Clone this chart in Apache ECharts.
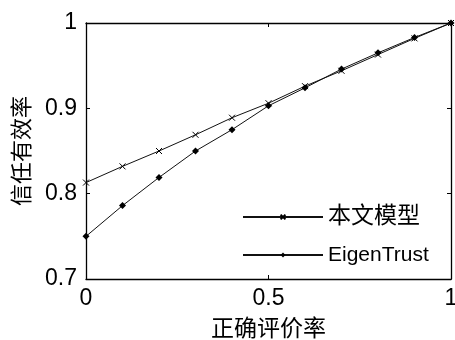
<!DOCTYPE html>
<html><head><meta charset="utf-8">
<script src="https://cdn.jsdelivr.net/npm/echarts@6/dist/echarts.min.js"></script>
<style>html,body{margin:0;padding:0;background:#fff}#c{width:455px;height:340px}</style>
</head><body><div id="c"></div>
<script>
const xValues = [0,0.1,0.2,0.3,0.4,0.5,0.6,0.7,0.8,0.9,1.0];
const modelValues = [0.813,0.832,0.850,0.869,0.889,0.906,0.926,0.944,0.963,0.982,1.0];
const eigenValues = [0.750,0.786,0.819,0.850,0.875,0.903,0.924,0.946,0.965,0.983,1.0];
const seriesNames = ['本文模型','EigenTrust'];
const xName = '正确评价率';
const yName = '信任有效率';

const chart = echarts.init(document.getElementById('c'));
const font = 'Arial, "Liberation Sans", "Noto Sans CJK SC", sans-serif';
const xMark = 'path://M0,0L10,10M10,0L0,10';
const tickStyle = {show:true,inside:true,length:4,lineStyle:{color:'#000',width:1}};
const lineStyleAxis = {color:'#000',width:1.3};
chart.setOption({
  animation:false,
  backgroundColor:'#fff',
  grid:{left:86,right:4,top:23,bottom:61,show:false,containLabel:false,outerBoundsMode:'none'},
  legend:[
    {left:242,top:205,padding:0,itemWidth:80,itemHeight:6,itemGap:0,
     textStyle:{fontFamily:font,fontSize:23,lineHeight:24,color:'#000'},
     data:[seriesNames[0]]},
    {left:242,top:243,padding:0,itemWidth:80,itemHeight:6,itemGap:0,
     textStyle:{fontFamily:font,fontSize:21,lineHeight:24,color:'#000'},
     data:[seriesNames[1]]}
  ],
  xAxis:[{
    type:'value',min:0,max:1,interval:0.5,
    name:xName,nameLocation:'middle',nameGap:39,
    nameTextStyle:{fontFamily:font,fontSize:23,color:'#000'},
    axisLine:{show:true,onZero:false,lineStyle:lineStyleAxis},
    axisTick:tickStyle,
    axisLabel:{fontFamily:font,fontSize:23,color:'#000',margin:8,formatter:v=>String(v)},
    splitLine:{show:false}
  },{
    type:'value',min:0,max:1,interval:0.5,position:'top',
    axisLine:{show:true,onZero:false,lineStyle:lineStyleAxis},
    axisTick:tickStyle,axisLabel:{show:false},splitLine:{show:false}
  }],
  yAxis:[{
    type:'value',min:0.7,max:1,interval:0.1,
    name:yName,nameLocation:'middle',nameGap:52,
    nameTextStyle:{fontFamily:font,fontSize:22,color:'#000'},
    axisLine:{show:true,onZero:false,lineStyle:lineStyleAxis},
    axisTick:tickStyle,
    axisLabel:{fontFamily:font,fontSize:23,color:'#000',margin:9,formatter:v=>String(+v.toFixed(1))},
    splitLine:{show:false}
  },{
    type:'value',min:0.7,max:1,interval:0.1,position:'right',
    axisLine:{show:true,onZero:false,lineStyle:lineStyleAxis},
    axisTick:tickStyle,axisLabel:{show:false},splitLine:{show:false}
  }],
  series:[
    {name:seriesNames[0],type:'line',data:xValues.map((x,i)=>[x,modelValues[i]]),
     symbol:xMark,symbolSize:6,showAllSymbol:true,
     lineStyle:{color:'#111',width:1},
     itemStyle:{color:'#000',borderColor:'#000',borderWidth:1}},
    {name:seriesNames[1],type:'line',data:xValues.map((x,i)=>[x,eigenValues[i]]),
     symbol:'diamond',symbolSize:7,showAllSymbol:true,
     lineStyle:{color:'#111',width:1},
     itemStyle:{color:'#000'}}
  ]
});
</script></body></html>
